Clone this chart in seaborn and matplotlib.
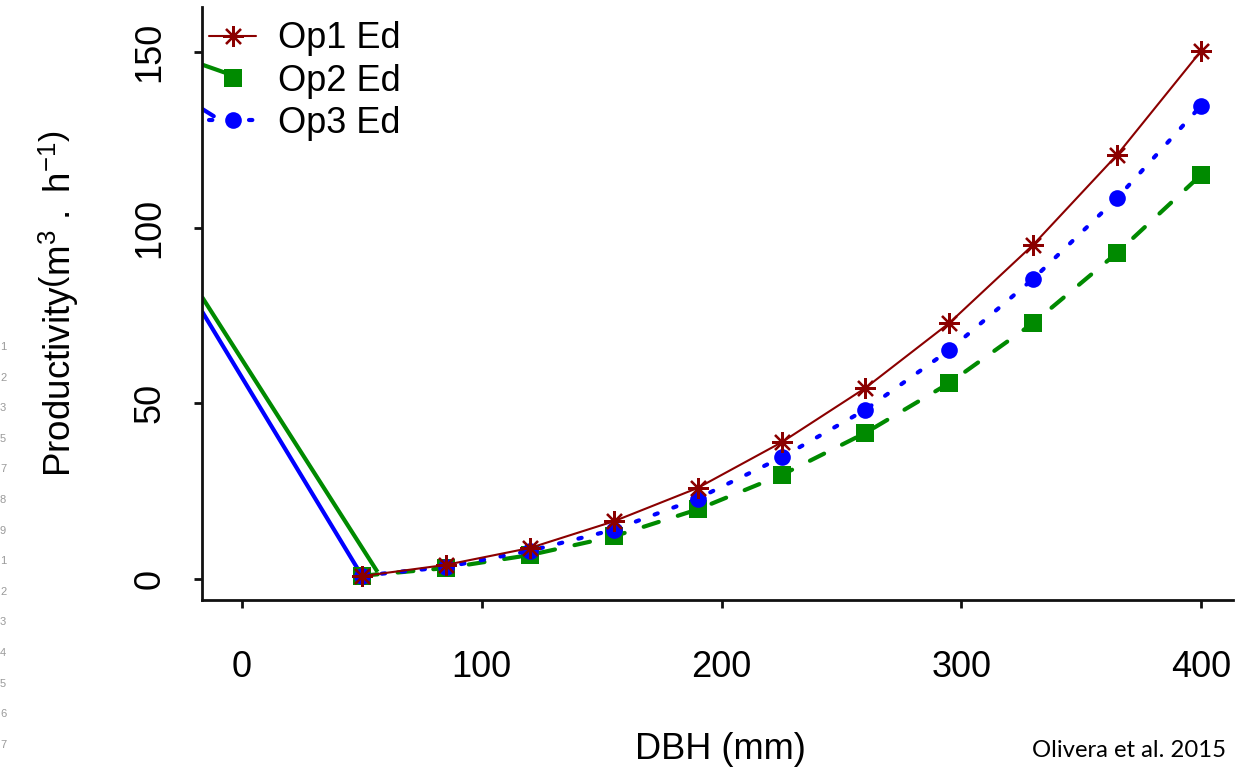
import numpy as np
import pandas as pd
import matplotlib
matplotlib.use("Agg")
import matplotlib.pyplot as plt
from matplotlib.lines import Line2D
import seaborn as sns

# Tree diameter classes (mm)
dbh = [50, 85, 120, 155, 190, 225, 260, 295, 330, 365, 400]

# Productivity (m3/h) per operator
op1 = [0.8, 4.0, 8.8, 16.4, 25.9, 38.9, 54.4, 72.9, 95.2, 120.8, 150.4]
op2 = [0.9, 3.1, 6.8, 12.1, 19.8, 29.6, 41.6, 55.8, 72.9, 92.9, 115.1]
op3 = [0.9, 3.4, 8.0, 14.0, 22.9, 34.6, 48.2, 65.2, 85.5, 108.5, 134.8]

series_names = ["Op1 Ed", "Op2 Ed", "Op3 Ed"]

# Stray connector segments from the left edge of the plot area
op2_lead_x = [-16.7, 56.5]
op2_lead_y = [80.3, 2.0]
op3_lead_x = [-16.7, 50.0]
op3_lead_y = [76.2, 0.9]
op2_top_x = [-16.7, -4.6]
op2_top_y = [146.5, 143.6]
op3_top_x = [-16.7, -11.8]
op3_top_y = [133.9, 131.8]

# Page line numbers visible in the left margin
margin_numbers = ["1", "2", "3", "5", "7", "8", "9", "1", "2", "3", "4", "5", "6", "7"]

x_ticks = [0, 100, 200, 300, 400]
y_ticks = [0, 50, 100, 150]

sns.set_style("white")
plt.rcParams["font.family"] = ["Liberation Sans", "DejaVu Sans"]
plt.rcParams["mathtext.fontset"] = "custom"
plt.rcParams["mathtext.rm"] = "Liberation Sans"
plt.rcParams["mathtext.it"] = "Liberation Sans:italic"
for key in ["text.color", "axes.labelcolor", "xtick.color", "ytick.color"]:
    plt.rcParams[key] = "black"

W, H = 1255, 769
fig = plt.figure(figsize=(W / 100, H / 100), dpi=100)
ax_l, ax_r, ax_b, ax_t = 202, 1233, 600, 7
ax = fig.add_axes([ax_l / W, 1 - ax_b / H, (ax_r - ax_l) / W, (ax_b - ax_t) / H])

df = pd.DataFrame({
    "DBH": dbh * 3,
    "Productivity": op1 + op2 + op3,
    "Operator": np.repeat(series_names, len(dbh)),
})

red, green, blue = "#8B0000", "#008A00", "#0000FF"

# Connector segments
sns.lineplot(x=op2_lead_x, y=op2_lead_y, ax=ax, color=green, linewidth=3.0,
             solid_capstyle="butt", estimator=None, sort=False)
sns.lineplot(x=op3_lead_x, y=op3_lead_y, ax=ax, color=blue, linewidth=3.0,
             solid_capstyle="butt", estimator=None, sort=False)
sns.lineplot(x=op2_top_x, y=op2_top_y, ax=ax, color=green, linewidth=3.0,
             solid_capstyle="butt", estimator=None, sort=False)
sns.lineplot(x=op3_top_x, y=op3_top_y, ax=ax, color=blue, linewidth=3.0,
             solid_capstyle="round", estimator=None, sort=False)

styles = {
    "Op1 Ed": dict(color=red, linewidth=1.5, linestyle="-", marker=(8, 2, 0),
                   markersize=15, markeredgewidth=1.6, markeredgecolor=red),
    "Op2 Ed": dict(color=green, linewidth=3.0, linestyle=(0, (3.8, 4.8)),
                   dash_capstyle="round", marker="s", markersize=12.5,
                   markeredgewidth=0, markerfacecolor=green),
    "Op3 Ed": dict(color=blue, linewidth=3.0, linestyle=(0, (0.8, 4.0)),
                   dash_capstyle="round", marker="o", markersize=12,
                   markeredgewidth=0, markerfacecolor=blue),
}

for name in ["Op2 Ed", "Op3 Ed", "Op1 Ed"]:
    sub = df[df["Operator"] == name]
    sns.lineplot(data=sub, x="DBH", y="Productivity", ax=ax,
                 estimator=None, sort=False, **styles[name])

ax.set_xlim(-16.7, 413.3)
ax.set_ylim(-6.0, 162.9)
ax.set_xticks(x_ticks)
ax.set_yticks(y_ticks)
ax.set_xticklabels([str(v) for v in x_ticks])
ax.set_yticklabels([str(v) for v in y_ticks], rotation=90, va="center")

for side in ["top", "right"]:
    ax.spines[side].set_visible(False)
for side in ["left", "bottom"]:
    ax.spines[side].set_linewidth(2.0)
    ax.spines[side].set_color("#111111")

ax.tick_params(axis="x", direction="out", length=6, width=2, pad=30,
               labelsize=26, color="#111111", bottom=True)
ax.tick_params(axis="y", direction="out", length=6, width=2, pad=19,
               labelsize=26, color="#111111", left=True)

ax.set_xlabel("DBH (mm)", fontsize=26)
ax.set_ylabel(r"Productivity$\left(\mathrm{m}^{3}\ .\ \mathrm{h}^{-1}\right)$", fontsize=26.5)
ax.xaxis.set_label_coords(0.503, -0.222)
ax.yaxis.set_label_coords(-0.117, 0.50)

handles = [
    Line2D([], [], **styles["Op1 Ed"]),
    Line2D([], [], color=green, linestyle="none", marker="s", markersize=12.5,
           markeredgewidth=0),
    Line2D([], [], **styles["Op3 Ed"]),
]
leg = ax.legend(handles, series_names, loc="upper left", frameon=False,
                fontsize=26, handlelength=1.3, handletextpad=0.6,
                labelspacing=0.2, borderaxespad=0,
                bbox_to_anchor=(-7 / (ax_r - ax_l), 1.0))

fig.text(1032 / W, 1 - 757 / H, "Olivera et al. 2015", fontsize=17.2,
         family=["Lato", "DejaVu Sans"], ha="left", va="baseline")

for i, num in enumerate(margin_numbers):
    fig.text(0 / W, 1 - (347 + i * 30.6) / H, num, fontsize=8, color="#9a9a9a",
             ha="left", va="center")

fig.savefig("out.png", dpi=100, facecolor="white")
